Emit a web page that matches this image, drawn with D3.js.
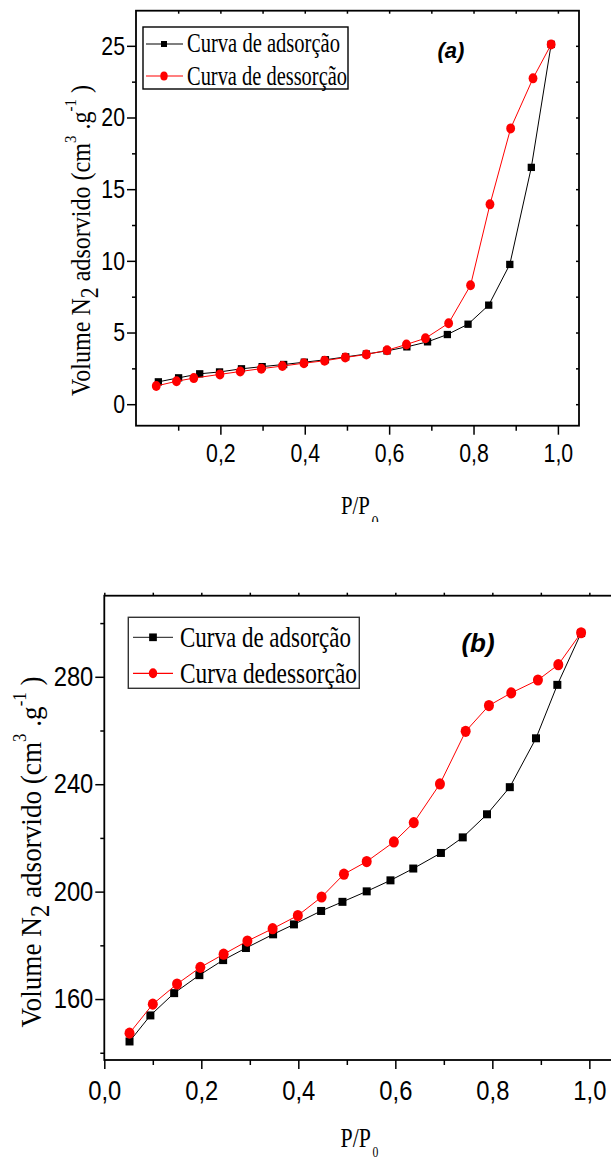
<!DOCTYPE html>
<html>
<head>
<meta charset="utf-8">
<script src="https://cdn.jsdelivr.net/npm/d3@7"></script>
<style>
  body { margin: 0; background: #fff; }
  svg { display: block; }
</style>
</head>
<body>
<svg id="fig" width="611" height="1160"></svg>
<script>
// ---- Panel (a): N2 isotherm, adsorption / desorption branches ----
const aAdsX = [0.053, 0.101, 0.151, 0.198, 0.250, 0.299, 0.350, 0.399, 0.449, 0.497, 0.546, 0.595, 0.642, 0.691, 0.738, 0.787, 0.836, 0.886, 0.937, 0.984];
const aAdsY = [1.56, 1.84, 2.12, 2.25, 2.47, 2.62, 2.77, 2.93, 3.10, 3.30, 3.50, 3.72, 4.00, 4.35, 4.86, 5.58, 6.91, 9.75, 16.52, 25.1];
const aDesX = [0.048, 0.096, 0.137, 0.199, 0.247, 0.297, 0.347, 0.398, 0.447, 0.496, 0.546, 0.595, 0.641, 0.686, 0.741, 0.793, 0.839, 0.888, 0.941, 0.984];
const aDesY = [1.27, 1.60, 1.82, 2.08, 2.28, 2.48, 2.66, 2.86, 3.03, 3.26, 3.47, 3.76, 4.17, 4.60, 5.65, 8.30, 13.94, 19.24, 22.73, 25.1];

// ---- Panel (b) ----
const bAdsX = [0.052, 0.095, 0.144, 0.196, 0.245, 0.292, 0.348, 0.391, 0.447, 0.491, 0.541, 0.590, 0.637, 0.694, 0.739, 0.789, 0.836, 0.890, 0.934, 0.983];
const bAdsY = [144.2, 153.9, 162.2, 168.9, 174.5, 179.0, 184.1, 187.8, 192.8, 196.2, 200.1, 204.2, 208.6, 214.4, 220.2, 228.8, 238.9, 257.1, 277.0, 296.3];
const bDesX = [0.052, 0.100, 0.150, 0.198, 0.246, 0.295, 0.347, 0.399, 0.448, 0.494, 0.541, 0.597, 0.638, 0.692, 0.745, 0.793, 0.839, 0.894, 0.936, 0.983];
const bDesY = [147.3, 158.1, 165.6, 171.8, 176.7, 181.6, 186.2, 191.1, 198.0, 206.5, 211.2, 218.5, 225.7, 240.1, 259.7, 269.3, 274.0, 278.8, 284.5, 296.4];

// ---- Tick values ----
const aXMajor = [0.2, 0.4, 0.6, 0.8, 1.0];
const aXMinor = [0.1, 0.3, 0.5, 0.7, 0.9];
const aYMajor = [0, 5, 10, 15, 20, 25];
const aYMinor = [2.5, 7.5, 12.5, 17.5, 22.5];
const bXMajor = [0.0, 0.2, 0.4, 0.6, 0.8, 1.0];
const bXMinor = [0.1, 0.3, 0.5, 0.7, 0.9];
const bYMajor = [160, 200, 240, 280];
const bYMinor = [140, 180, 220, 260, 300];

// ---- Text ----
const legendA = ["Curva de adsorção", "Curva de dessorção"];
const legendB = ["Curva de adsorção", "Curva dedessorção"];
const panelTags = ["(a)", "(b)"];

const svg = d3.select("#fig");
svg.append("rect").attr("width", 611).attr("height", 1160).attr("fill", "#fff");

const SANS = "Arial, 'Liberation Sans', sans-serif";
const SERIF = "'Times New Roman', 'Liberation Serif', serif";
const comma = d => d3.format(".1f")(d).replace(".", ",");

function drawPanel(g, o) {
  const x = d3.scaleLinear().domain(o.xDomain).range([o.left, o.right]);
  const y = d3.scaleLinear().domain(o.yDomain).range([o.bottom, o.top]);

  // tick marks
  const axB = g.append("g").attr("transform", `translate(0,${o.bottom})`)
    .call(d3.axisBottom(x).tickValues(o.xMajor).tickSize(9).tickFormat(comma));
  g.append("g").attr("transform", `translate(0,${o.bottom})`)
    .call(d3.axisBottom(x).tickValues(o.xMinor).tickSize(5).tickFormat(""));
  const axL = g.append("g").attr("transform", `translate(${o.left},0)`)
    .call(d3.axisLeft(y).tickValues(o.yMajor).tickSize(9).tickFormat(d3.format("d")));
  g.append("g").attr("transform", `translate(${o.left},0)`)
    .call(d3.axisLeft(y).tickValues(o.yMinor).tickSize(4).tickFormat(""));
  g.append("g").attr("transform", `translate(0,${o.top})`)
    .call(d3.axisTop(x).tickValues(o.topTicks).tickSize(o.topTickSize).tickFormat(""));
  if (o.rightTicks) {
    g.append("g").attr("transform", `translate(${o.right},0)`)
      .call(d3.axisRight(y).tickValues(o.rightTicks).tickSize(-3).tickFormat(""));
  }
  g.selectAll(".domain").remove();
  g.selectAll(".tick line").attr("stroke", "#000").attr("stroke-width", 1.5);

  axB.selectAll(".tick text")
    .attr("y", 0).attr("dy", 0)
    .attr("transform", `translate(0,${o.xLabelOffset}) scale(${o.labelScale},1)`)
    .attr("font-family", SANS).attr("font-size", o.labelSize).attr("fill", "#000");
  axL.selectAll(".tick text")
    .attr("x", 0)
    .attr("transform", `translate(-11,0) scale(${o.labelScale},1)`)
    .attr("font-family", SANS).attr("font-size", o.labelSize).attr("fill", "#000");

  // frame
  g.append("rect")
    .attr("x", o.left).attr("y", o.top)
    .attr("width", o.right - o.left).attr("height", o.bottom - o.top)
    .attr("fill", "none").attr("stroke", "#000").attr("stroke-width", 1.8);

  // series
  const line = d3.line().x(d => x(d[0])).y(d => y(d[1]));
  const ads = o.adsX.map((v, i) => [v, o.adsY[i]]);
  const des = o.desX.map((v, i) => [v, o.desY[i]]);

  g.append("path").datum(ads).attr("d", line)
    .attr("fill", "none").attr("stroke", "#000").attr("stroke-width", 1);
  g.selectAll(null).data(ads).enter().append("rect")
    .attr("x", d => x(d[0]) - o.sq / 2).attr("y", d => y(d[1]) - o.sq / 2)
    .attr("width", o.sq).attr("height", o.sq).attr("fill", "#000");

  g.append("path").datum(des).attr("d", line)
    .attr("fill", "none").attr("stroke", "#ff0000").attr("stroke-width", 1);
  g.selectAll(null).data(des).enter().append("ellipse")
    .attr("cx", d => x(d[0])).attr("cy", d => y(d[1]))
    .attr("rx", o.rx).attr("ry", o.ry).attr("fill", "#ff0000");

  // legend
  const L = o.legend;
  g.append("rect").attr("x", L.x0).attr("y", L.y0)
    .attr("width", L.x1 - L.x0).attr("height", L.y1 - L.y0)
    .attr("fill", "#fff").attr("stroke", L.border).attr("stroke-width", 1.4);
  L.rows.forEach((r, i) => {
    const col = i === 0 ? L.blackLine : "#ff0000";
    g.append("line").attr("x1", L.lx0).attr("x2", L.lx1).attr("y1", r.y).attr("y2", r.y)
      .attr("stroke", col).attr("stroke-width", 1.2);
    if (i === 0) {
      g.append("rect").attr("x", L.mx - L.sq / 2).attr("y", r.y - L.sq / 2)
        .attr("width", L.sq).attr("height", L.sq).attr("fill", "#000");
    } else {
      g.append("ellipse").attr("cx", L.mx).attr("cy", r.y)
        .attr("rx", L.rx).attr("ry", L.ry).attr("fill", "#ff0000");
    }
    g.append("text").attr("x", L.tx).attr("y", r.base)
      .attr("font-family", SERIF).attr("font-size", L.size)
      .attr("textLength", r.len).attr("lengthAdjust", "spacingAndGlyphs")
      .attr("fill", "#000").text(o.legendText[i]);
  });

  // panel tag
  g.append("text").attr("x", o.tag.x).attr("y", o.tag.y)
    .attr("text-anchor", "middle").attr("font-family", SANS)
    .attr("font-weight", "bold").attr("font-style", "italic")
    .attr("font-size", o.tag.size).attr("fill", "#000").text(o.tag.text);

  // y title
  const yt = g.append("text")
    .attr("transform", `translate(${o.yTitle.x},${o.yTitle.y}) rotate(-90)`)
    .attr("text-anchor", "middle").attr("font-family", SERIF)
    .attr("font-size", o.yTitle.size).attr("fill", "#000")
    .attr("textLength", o.yTitle.len).attr("lengthAdjust", "spacingAndGlyphs");
  yt.append("tspan").text("Volume N");
  yt.append("tspan").attr("dy", o.yTitle.size * 0.28).attr("font-size", o.yTitle.size * 0.9).text("2");
  yt.append("tspan").attr("dy", -o.yTitle.size * 0.28).text(" adsorvido (cm");
  yt.append("tspan").attr("dy", -o.yTitle.size * 0.5).attr("font-size", o.yTitle.size * 0.62).text("3");
  yt.append("tspan").attr("dy", o.yTitle.size * 0.5).text(" .g");
  yt.append("tspan").attr("dy", -o.yTitle.size * 0.5).attr("font-size", o.yTitle.size * 0.62).text("-1");
  yt.append("tspan").attr("dy", o.yTitle.size * 0.5).text(" )");

  // x title: P/P with subscript 0, narrowed as a whole
  const xt = g.append("text")
    .attr("transform", `translate(${o.xTitle.x},${o.xTitle.y}) scale(${o.xTitle.sx},1)`)
    .attr("font-family", SERIF).attr("font-size", o.xTitle.size).attr("fill", "#000");
  xt.append("tspan").text("P/P");
  xt.append("tspan").attr("dx", 2).attr("dy", o.xTitle.subDy)
    .attr("font-size", o.xTitle.subSize).text("0");
}

// clip for upper panel (its subscript is cut at the panel edge)
svg.append("defs").append("clipPath").attr("id", "clipA")
  .append("rect").attr("x", 0).attr("y", 0).attr("width", 611).attr("height", 522);

drawPanel(svg.append("g").attr("clip-path", "url(#clipA)"), {
  xDomain: [0, 1.05], yDomain: [-1.5, 27.45],
  left: 136, right: 579, top: 10.7, bottom: 425.7,
  xMajor: aXMajor, xMinor: aXMinor, yMajor: aYMajor, yMinor: aYMinor,
  topTicks: aXMinor.concat(aXMajor), topTickSize: -3,
  rightTicks: aYMajor.concat(aYMinor),
  labelSize: 26, labelScale: 0.82, xLabelOffset: 36,
  adsX: aAdsX, adsY: aAdsY, desX: aDesX, desY: aDesY,
  sq: 7.3, rx: 4.4, ry: 5,
  legendText: legendA,
  legend: { x0: 143, y0: 27, x1: 348, y1: 89, lx0: 146, lx1: 183, mx: 164, sq: 6, rx: 3.7, ry: 4.5,
    tx: 187, size: 27, border: "#000", blackLine: "#000",
    rows: [{ y: 44, base: 52, len: 153 }, { y: 76, base: 84.5, len: 160 }] },
  tag: { x: 451, y: 57.5, size: 22, text: panelTags[0] },
  yTitle: { x: 90, y: 240.5, size: 28, len: 311 },
  xTitle: { x: 341, y: 514, size: 26, sx: 0.8, subSize: 18, subDy: 15 }
});

drawPanel(svg.append("g"), {
  xDomain: [0, 1.05], yDomain: [137.3, 310.2],
  left: 104.3, right: 613.6, top: 595.7, bottom: 1060,
  xMajor: bXMajor, xMinor: bXMinor, yMajor: bYMajor, yMinor: bYMinor,
  topTicks: bXMinor.concat(bXMajor), topTickSize: 3,
  rightTicks: null,
  labelSize: 27, labelScale: 0.88, xLabelOffset: 40,
  adsX: bAdsX, adsY: bAdsY, desX: bDesX, desY: bDesY,
  sq: 8, rx: 5, ry: 5.6,
  legendText: legendB,
  legend: { x0: 128.3, y0: 617.3, x1: 359.3, y1: 688.3, lx0: 133, lx1: 173, mx: 153, sq: 7.7, rx: 4.2, ry: 5,
    tx: 180, size: 30, border: "#333", blackLine: "#444",
    rows: [{ y: 637.3, base: 647, len: 171 }, { y: 673.3, base: 683, len: 177 }] },
  tag: { x: 478, y: 652.4, size: 26, text: panelTags[1] },
  yTitle: { x: 41, y: 852, size: 30, len: 351 },
  xTitle: { x: 340.5, y: 1147, size: 28, sx: 0.78, subSize: 15, subDy: 10 }
});
</script>
</body>
</html>
